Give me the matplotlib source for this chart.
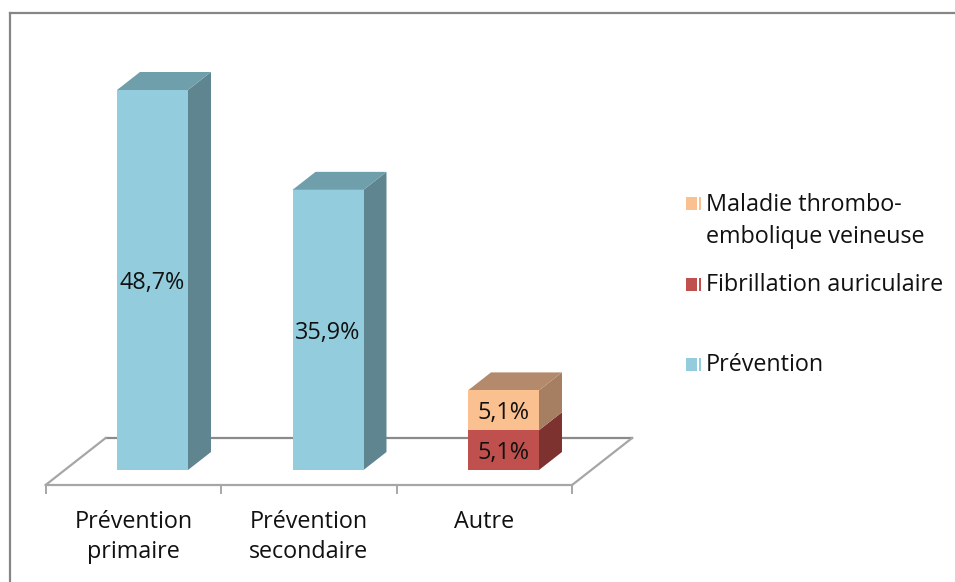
import matplotlib
matplotlib.use("Agg")
import matplotlib.pyplot as plt
from matplotlib.patches import Polygon, Rectangle
from matplotlib.lines import Line2D

plt.rcParams['font.family'] = ['Open Sans', 'DejaVu Sans']

# ---- data ----
categories = ["Prévention\nprimaire", "Prévention\nsecondaire", "Autre"]
series_names = ["Prévention", "Fibrillation auriculaire",
                "Maladie thrombo-\nembolique veineuse"]
prevention = [48.7, 35.9, 0.0]
fibrillation = [0.0, 0.0, 5.1]
mtev = [0.0, 0.0, 5.1]
series_values = [prevention, fibrillation, mtev]

# ---- styles ----
front_colors = ["#93CDDD", "#C0504D", "#FAC090"]
side_colors = ["#5E8590", "#7E3230", "#A67F62"]
top_colors = ["#6F9FAB", "#903A38", "#B38A6B"]
FS = 16.8

W, H, DPI = 955, 582, 100
PX_PER_CAT = 175.5          # horizontal pixels between categories
PX_PER_PCT = 380 / 48.7     # vertical pixels per percent
X0_PX, Y0_PX = 152.5, 470   # pixel position of first bar centre / baseline
BAR_W = 71 / PX_PER_CAT     # bar width in category units
SLANT = 1.277               # horizontal px per vertical px of depth


def depth_offset(dy_px):
    """Data-space offset for a receding depth of dy_px pixels."""
    return SLANT * dy_px / PX_PER_CAT, dy_px / PX_PER_PCT


fig = plt.figure(figsize=(W / DPI, H / DPI), dpi=DPI)
ax = fig.add_axes([0, 0, 1, 1])
ax.set_xlim(-X0_PX / PX_PER_CAT, (W - X0_PX) / PX_PER_CAT)
ax.set_ylim(-(H - Y0_PX) / PX_PER_PCT, Y0_PX / PX_PER_PCT)
ax.axis("off")

# chart frame (top and left edges)
fig.add_artist(Line2D([9.5 / W, 9.5 / W], [0, 1 - 12.5 / H], color="#868686", lw=1.6))
fig.add_artist(Line2D([9.5 / W, 1], [1 - 12.5 / H, 1 - 12.5 / H], color="#868686", lw=1.6))

# ---- floor ----
n = len(categories)
fx, fy = depth_offset(-15)
bx, by = depth_offset(32)
left, right = -0.5, n - 0.5
floor_col = "#A6A6A6"
ax.plot([left + fx, right + fx], [fy, fy], color=floor_col, lw=1.6, zorder=1)
ax.plot([left + bx, right + bx], [by, by], color="#8A8A8A", lw=1.6, zorder=1)
ax.plot([left + fx, left + bx], [fy, by], color=floor_col, lw=1.6, zorder=1)
ax.plot([right + fx, right + bx], [fy, by], color=floor_col, lw=1.6, zorder=1)
tick_len = 8 / PX_PER_PCT
for k in range(n + 1):
    x = left + k + fx
    ax.plot([x, x], [fy, fy - tick_len], color=floor_col, lw=1.4, zorder=1)

# category labels
for i, cat in enumerate(categories):
    ax.text(i + fx, fy - 25 / PX_PER_PCT, cat, ha="center", va="top",
            fontsize=FS, linespacing=1.33, color="#111111")

# ---- 3D bars ----
dx, dy = depth_offset(18)
hw = BAR_W / 2
lab_shift = 3 / PX_PER_PCT
for i in range(n):
    bottom = 0.0
    for s, vals in enumerate(series_values):
        v = vals[i]
        if v <= 0:
            continue
        top = bottom + v
        x0, x1 = i - hw, i + hw
        # side face
        ax.add_patch(Polygon([(x1, bottom), (x1 + dx, bottom + dy),
                              (x1 + dx, top + dy), (x1, top)],
                             closed=True, fc=side_colors[s], ec="none", zorder=3))
        # front face
        ax.bar(i, v, width=BAR_W, bottom=bottom, color=front_colors[s],
               edgecolor="none", zorder=4)
        label = f"{v:.1f}%".replace(".", ",")
        ax.text(i, bottom + v / 2 - lab_shift, label, ha="center", va="center",
                fontsize=FS, color="#111111", zorder=6)
        bottom = top
    # top face of the stack
    top_s = max(s for s, vals in enumerate(series_values) if vals[i] > 0)
    ax.add_patch(Polygon([(i - hw, bottom), (i - hw + dx, bottom + dy),
                          (i + hw + dx, bottom + dy), (i + hw, bottom)],
                         closed=True, fc=top_colors[top_s], ec="none", zorder=3))

# ---- legend ----
legend_y = [204, 284, 364]
legend_order = [2, 1, 0]
for yy, s in zip(legend_y, legend_order):
    yf = 1 - yy / H
    fig.add_artist(Rectangle((686 / W, yf - 6.5 / H), 11 / W, 13 / H,
                             transform=fig.transFigure, fc=front_colors[s], ec="none"))
    fig.add_artist(Rectangle((698.5 / W, yf - 6.5 / H), 2.5 / W, 13 / H,
                             transform=fig.transFigure, fc=front_colors[s], ec="none"))
    fig.text(706 / W, yf + 11 / H, series_names[s], ha="left", va="top",
             fontsize=FS, linespacing=1.45, color="#111111")

fig.savefig("out.png", dpi=DPI, facecolor="white")
